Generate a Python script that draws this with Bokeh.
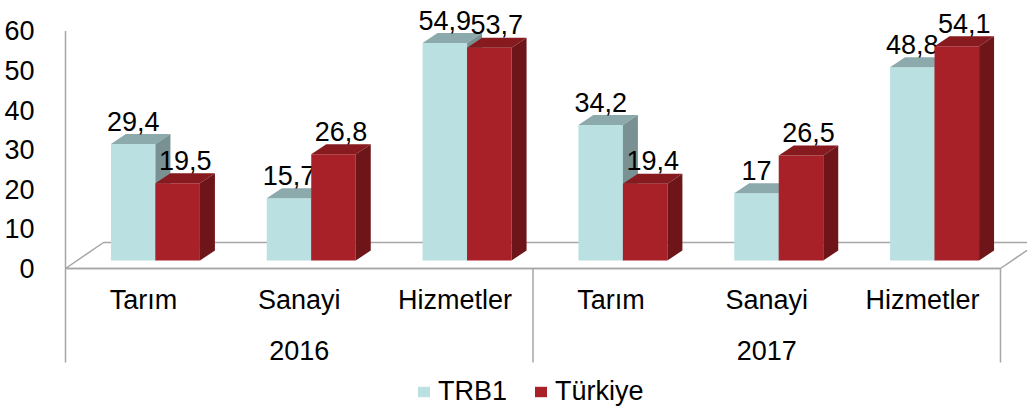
from bokeh.plotting import figure
from bokeh.models import Range1d, FixedTicker, Legend, LegendItem
from bokeh.core.properties import value
from bokeh.embed import file_html
from bokeh.resources import INLINE

# ---------------- data ----------------
categories = ["Tarım", "Sanayi", "Hizmetler"]
years = ["2016", "2017"]
series_names = ["TRB1", "Türkiye"]
trb1 = [29.4, 15.7, 54.9, 34.2, 17.0, 48.8]
turkiye = [19.5, 26.8, 53.7, 19.4, 26.5, 54.1]
y_ticks = [0, 10, 20, 30, 40, 50, 60]

# ---------------- style / geometry (pixels) ----------------
FONT = "Liberation Sans"
FS = "27px"
W, H = 1027, 407
LEFT = 60                      # frame left (px)
SX = 155.83                    # px per category slot
SY = 3.96                      # px per value unit
ZERO_Y = 268                   # px of value 0 on the front plane
BAR_W = 44.5 / SX
DX1, DY1 = 12 / SX, 8 / SY     # bar front offset (depth)
DX2, DY2 = 15 / SX, 10 / SY    # bar depth
FDX, FDY = 38 / SX, 26 / SY    # floor depth
TXT_UP = 9 / SY                # baseline correction for text glyphs
GRAY = "#a6a6a6"

cols = {
    "TRB1": ("#bae0e2", "#8ca9ab", "#7a9193"),
    "Türkiye": ("#a82028", "#861a1f", "#6e1519"),
}

x0 = -5 / SX
p = figure(width=W, height=H, output_backend="svg", toolbar_location=None,
           x_axis_location=None, y_axis_location="left",
           min_border_left=LEFT, min_border_right=0, min_border_top=0,
           min_border_bottom=0)
p.x_range = Range1d(x0, x0 + (W - LEFT) / SX)
p.y_range = Range1d(-(H - ZERO_Y) / SY, ZERO_Y / SY)
p.outline_line_color = None
p.grid.visible = False
p.background_fill_color = "white"
p.border_fill_color = "white"

ya = p.yaxis[0]
ya.ticker = FixedTicker(ticks=y_ticks)
ya.axis_line_color = None
ya.major_tick_line_color = None
ya.minor_tick_line_color = None
ya.major_label_standoff = 20
ya.major_label_text_font = FONT
ya.major_label_text_font_size = FS
ya.major_label_text_color = "black"

n = len(trb1)

# floor
p.patch([0, n, n + FDX, FDX], [0, 0, FDY, FDY], fill_color="white",
        line_color=GRAY, line_width=1.5)

# bars
renderers = {}
for s_idx, (name, vals) in enumerate(zip(series_names, [trb1, turkiye])):
    front_c, top_c, side_c = cols[name]
    fx, fy, tx, ty, sx, sy = [], [], [], [], [], []
    for i, v in enumerate(vals):
        c = i + 0.5 + DX1
        xl = c - BAR_W if s_idx == 0 else c
        xr = xl + BAR_W
        b = DY1
        t = v + DY1
        fx.append([xl, xr, xr, xl]); fy.append([b, b, t, t])
        tx.append([xl, xr, xr + DX2, xl + DX2]); ty.append([t, t, t + DY2, t + DY2])
        sx.append([xr, xr + DX2, xr + DX2, xr]); sy.append([b, b + DY2, t + DY2, t])
    r = p.patches(fx, fy, fill_color=front_c, line_color=None)
    p.patches(tx, ty, fill_color=top_c, line_color=None)
    p.patches(sx, sy, fill_color=side_c, line_color=None)
    renderers[name] = r
    # data labels
    lx = [i + 0.5 + DX1 + (-BAR_W / 2 if s_idx == 0 else BAR_W / 2 + DX2 / 2)
          for i in range(n)]
    ly = [v + DY1 + DY2 + 4 / SY + TXT_UP for v in vals]
    txt = [f"{v:g}".replace(".", ",") for v in vals]
    p.text(lx, ly, text=txt, text_font=value(FONT), text_font_size=FS,
           text_color="black", text_align="center",
           text_baseline="alphabetic")

# axis line and separators
sep_bottom = -(362 - ZERO_Y) / SY
p.segment([0, 0, len(categories), n], [0, sep_bottom, sep_bottom, sep_bottom],
          [0, 0, len(categories), n], [y_ticks[-1], 0, 0, 0],
          line_color=GRAY, line_width=1.5)
p.segment([0], [0], [n], [0], line_color=GRAY, line_width=1.5)

# category labels
cat_x = [i + 0.5 for i in range(n)]
cat_t = [categories[i % len(categories)] for i in range(n)]
p.text(cat_x, [-(308 - ZERO_Y) / SY + TXT_UP] * n, text=cat_t,
       text_font=value(FONT), text_font_size=FS, text_color="black",
       text_align="center", text_baseline="alphabetic")
yr_x = [j * len(categories) + len(categories) / 2 for j in range(len(years))]
p.text(yr_x, [-(357 - ZERO_Y) / SY + TXT_UP * 0.8] * len(years), text=years,
       text_font=value(FONT), text_font_size=FS, text_color="black",
       text_align="center", text_baseline="alphabetic")

legend = Legend(items=[LegendItem(label=nm, renderers=[renderers[nm]])
                       for nm in series_names],
                orientation="horizontal", location=(356, 0),
                border_line_color=None, background_fill_alpha=0,
                label_text_font=FONT, label_text_font_size=FS,
                label_text_color="black",
                glyph_width=15, glyph_height=13, label_standoff=7,
                spacing=26, padding=0, margin=0)
p.add_layout(legend)

open("out.html", "w").write(file_html(p, INLINE))
